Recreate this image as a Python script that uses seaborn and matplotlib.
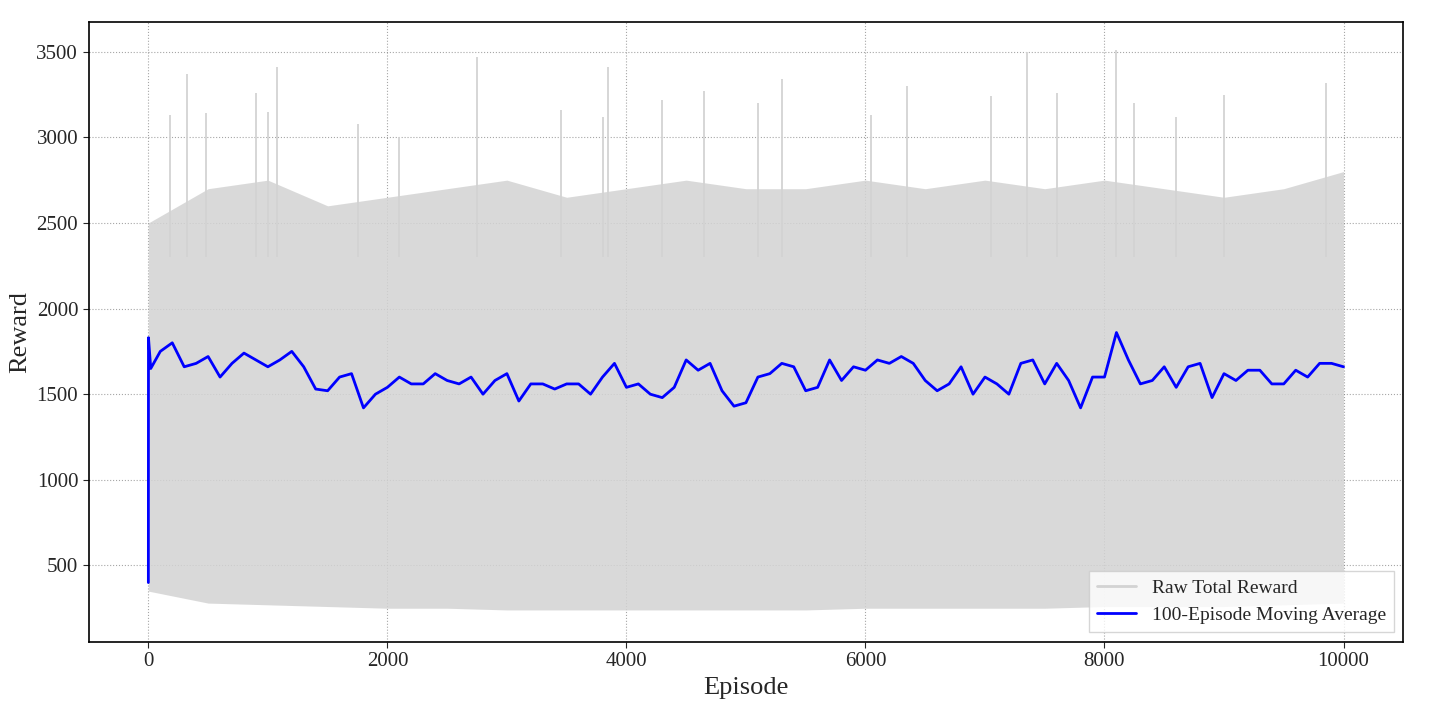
import matplotlib
matplotlib.use("Agg")
import matplotlib.pyplot as plt
import seaborn as sns
import numpy as np
from matplotlib.lines import Line2D

sns.set_style("white")
plt.rcParams['font.family'] = ['Liberation Serif', 'DejaVu Serif']

# Moving average, read every 100 episodes
ma_episodes = list(range(0, 10001, 100))
ma_values = [1650,1750,1800,1660,1680,1720,1600,1680,1740,1700,1660,1700,1750,1660,1530,1520,1600,1620,1420,1500,
             1540,1600,1560,1560,1620,1580,1560,1600,1500,1580,1620,1460,1560,1560,1530,1560,1560,1500,1600,1680,
             1540,1560,1500,1480,1540,1700,1640,1680,1520,1430,1450,1600,1620,1680,1660,1520,1540,1700,1580,1660,
             1640,1700,1680,1720,1680,1580,1520,1560,1660,1500,1600,1560,1500,1680,1700,1560,1680,1580,1420,1600,
             1600,1860,1700,1560,1580,1660,1540,1660,1680,1480,1620,1580,1640,1640,1560,1560,1640,1600,1680,1680,1660]
ma_start_x = [0, 1, 20]
ma_start_y = [400, 1830, 1650]

# Raw reward: dense band envelope (every 500 episodes)
env_episodes = list(range(0, 10001, 500))
env_upper = [2500,2700,2750,2600,2650,2700,2750,2650,2700,2750,2700,2700,2750,2700,2750,2700,2750,2700,2650,2700,2800]
env_lower = [350,280,270,260,250,250,240,240,240,240,240,240,250,250,250,250,260,260,260,270,280]
# Tall spikes (episode, peak)
spike_x = [180,320,480,900,1000,1080,1750,2100,2750,3450,3800,3850,4300,4650,5100,5300,6050,6350,7050,7350,7600,8100,8250,8600,9000,9850]
spike_y = [3130,3370,3140,3260,3150,3410,3080,3000,3470,3160,3120,3410,3220,3270,3200,3340,3130,3300,3240,3500,3260,3510,3200,3120,3250,3320]

fig, ax = plt.subplots(figsize=(14.29, 7.25), dpi=100)
ax.fill_between(env_episodes, env_lower, env_upper, color='lightgray', alpha=0.85, lw=0)
ax.vlines(spike_x, 2300, spike_y, color='lightgray', lw=1.3)
sns.lineplot(x=ma_start_x + ma_episodes[1:], y=ma_start_y + ma_values[1:], ax=ax,
             color='blue', lw=2, estimator=None, sort=False)

ax.set_xlim(-500, 10500)
ax.set_ylim(55, 3675)
ax.set_xticks(range(0, 10001, 2000))
ax.set_yticks(range(500, 3501, 500))
ax.tick_params(labelsize=15, length=4, direction='out', bottom=True, left=True)
ax.set_xlabel("Episode", fontsize=19)
ax.set_ylabel("Reward", fontsize=19)
ax.grid(True, linestyle=':', color='gray', alpha=0.7)
for s in ax.spines.values():
    s.set_color('black'); s.set_linewidth(1.2)
handles = [Line2D([], [], color='lightgray', lw=2), Line2D([], [], color='blue', lw=2)]
ax.legend(handles, ["Raw Total Reward", "100-Episode Moving Average"], loc='lower right', fontsize=14, fancybox=False)
plt.subplots_adjust(left=0.062, right=0.982, top=0.97, bottom=0.115)
fig.savefig("out.png", dpi=100)
